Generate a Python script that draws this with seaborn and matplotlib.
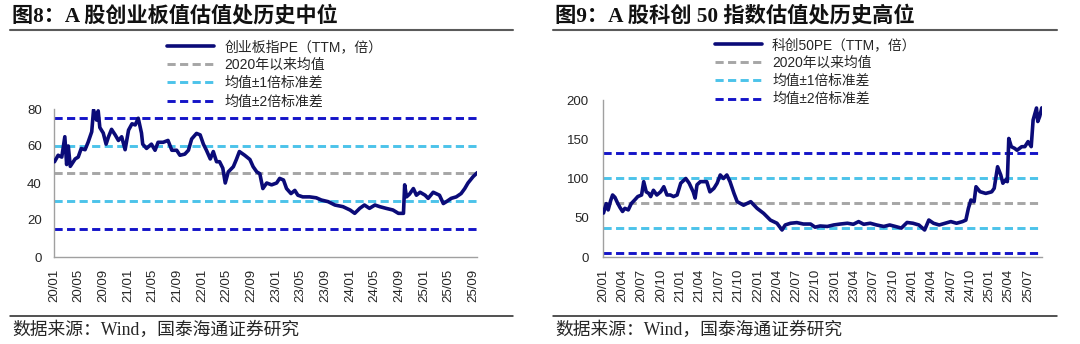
import matplotlib
matplotlib.use("Agg")
import matplotlib.pyplot as plt
from matplotlib.lines import Line2D
import pandas as pd
import seaborn as sns

# ---------------- 创业板指 PE(TTM) ----------------
cyb_dates = [
    "2020-01-02", "2020-01-20", "2020-02-07", "2020-02-22", "2020-03-02", "2020-03-10",
    "2020-03-20", "2020-04-13", "2020-04-28", "2020-05-13", "2020-06-01", "2020-06-16",
    "2020-07-04", "2020-07-13", "2020-07-28", "2020-08-05", "2020-08-13", "2020-08-30",
    "2020-09-13", "2020-09-25", "2020-10-10", "2020-10-28", "2020-11-13", "2020-11-29",
    "2020-12-16", "2021-01-02", "2021-01-19", "2021-02-04", "2021-02-19", "2021-03-07",
    "2021-03-13", "2021-04-01", "2021-04-25", "2021-05-13", "2021-05-28", "2021-06-22",
    "2021-07-16", "2021-08-04", "2021-08-28", "2021-09-13", "2021-10-07", "2021-10-25",
    "2021-11-10", "2021-12-04", "2021-12-22", "2022-01-07", "2022-01-22", "2022-02-10",
    "2022-02-25", "2022-03-13", "2022-03-28", "2022-04-13", "2022-04-25", "2022-05-10",
    "2022-06-04", "2022-06-19", "2022-07-04", "2022-07-30", "2022-08-25", "2022-09-10",
    "2022-09-28", "2022-10-13", "2022-10-28", "2022-11-16", "2022-12-10", "2023-01-04",
    "2023-01-19", "2023-02-07", "2023-02-22", "2023-03-16", "2023-04-04", "2023-04-19",
    "2023-05-13", "2023-06-16", "2023-07-19", "2023-08-13", "2023-09-16", "2023-10-19",
    "2023-11-28", "2024-01-02", "2024-01-25", "2024-02-19", "2024-03-13", "2024-04-07",
    "2024-05-04", "2024-05-28", "2024-06-28", "2024-08-01", "2024-08-28", "2024-09-22",
    "2024-09-28", "2024-10-07", "2024-10-22", "2024-11-10", "2024-11-25", "2024-12-13",
    "2025-01-07", "2025-01-22", "2025-02-16", "2025-03-19", "2025-04-07", "2025-04-22",
    "2025-05-16", "2025-06-10", "2025-07-04", "2025-07-22", "2025-08-07", "2025-09-01",
    "2025-09-22",
]
cyb_pe = [
    51.5, 55.0, 54.0, 65.0, 50.0, 60.0,
    49.0, 53.0, 54.0, 58.6, 58.0, 62.0,
    67.7, 79.5, 74.0, 79.0, 70.0, 67.0,
    61.0, 65.0, 69.0, 66.0, 63.0, 65.0,
    58.0, 68.6, 72.0, 71.4, 75.0, 67.0,
    61.0, 58.7, 61.0, 57.7, 62.0, 62.0,
    63.0, 57.7, 57.7, 55.0, 55.6, 57.7,
    63.8, 66.8, 66.0, 61.0, 57.7, 53.0,
    57.0, 51.5, 51.5, 48.0, 40.0, 46.0,
    48.8, 52.7, 57.0, 55.0, 52.7, 48.8,
    46.0, 45.0, 37.0, 40.0, 39.0, 40.0,
    42.5, 41.6, 37.0, 34.3, 36.0, 33.4,
    32.5, 32.5, 32.0, 30.8, 29.9, 28.1,
    27.2, 25.4, 23.6, 26.3, 28.1, 26.3,
    28.1, 27.2, 26.3, 25.4, 23.6, 23.6,
    39.0, 32.5, 34.0, 37.0, 33.4, 35.0,
    33.4, 31.7, 35.0, 33.4, 28.9, 29.9,
    31.7, 32.5, 34.3, 37.0, 40.0, 43.4,
    45.6,
]
cyb_mean = 45.2
cyb_sd1 = [60.2, 30.2]
cyb_sd2 = [75.2, 15.2]
cyb_ticks = ["20/01", "20/05", "20/09", "21/01", "21/05", "21/09", "22/01", "22/05",
             "22/09", "23/01", "23/05", "23/09", "24/01", "24/05", "24/09", "25/01",
             "25/05", "25/09"]
cyb_yticks = [0, 20, 40, 60, 80]

# ---------------- 科创50 PE(TTM) ----------------
kc_dates = [
    "2020-01-02", "2020-01-15", "2020-01-24", "2020-02-05", "2020-02-14", "2020-02-25",
    "2020-03-08", "2020-03-20", "2020-04-01", "2020-04-12", "2020-04-28", "2020-05-12",
    "2020-05-28", "2020-06-12", "2020-06-30", "2020-07-10", "2020-07-22", "2020-08-03",
    "2020-08-12", "2020-08-25", "2020-09-10", "2020-09-28", "2020-10-13", "2020-10-28",
    "2020-11-13", "2020-11-28", "2020-12-15", "2021-01-01", "2021-01-25", "2021-02-10",
    "2021-03-01", "2021-03-10", "2021-03-19", "2021-04-04", "2021-05-04", "2021-05-19",
    "2021-06-07", "2021-06-22", "2021-07-07", "2021-07-22", "2021-08-07", "2021-08-22",
    "2021-09-10", "2021-09-25", "2021-10-25", "2021-11-28", "2021-12-28", "2022-01-28",
    "2022-03-01", "2022-04-01", "2022-04-25", "2022-05-10", "2022-06-04", "2022-07-04",
    "2022-08-04", "2022-09-07", "2022-09-28", "2022-10-22", "2022-11-25", "2022-12-25",
    "2023-01-25", "2023-02-28", "2023-03-28", "2023-04-22", "2023-05-16", "2023-06-16",
    "2023-07-16", "2023-08-19", "2023-09-16", "2023-10-13", "2023-11-10", "2023-12-07",
    "2024-01-04", "2024-02-01", "2024-02-28", "2024-03-19", "2024-04-10", "2024-05-07",
    "2024-06-04", "2024-07-01", "2024-07-28", "2024-08-25", "2024-09-10", "2024-09-22",
    "2024-10-04", "2024-10-19", "2024-10-28", "2024-11-16", "2024-12-13", "2025-01-10",
    "2025-01-22", "2025-02-07", "2025-02-22", "2025-03-04", "2025-03-16", "2025-03-25",
    "2025-04-01", "2025-04-13", "2025-04-28", "2025-05-10", "2025-06-01", "2025-06-16",
    "2025-07-01", "2025-07-16", "2025-07-25", "2025-08-10", "2025-08-16", "2025-08-25",
    "2025-09-04",
]
kc_pe = [
    56.0, 68.0, 60.0, 72.0, 79.0, 76.0,
    69.0, 63.0, 58.0, 62.0, 60.0, 68.0,
    72.5, 77.0, 79.0, 96.0, 83.0, 81.0,
    77.0, 85.0, 79.0, 83.0, 89.5, 79.0,
    79.0, 77.0, 79.0, 94.0, 100.0, 94.0,
    83.0, 75.0, 92.0, 96.0, 96.0, 83.0,
    87.5, 94.0, 104.5, 100.0, 104.5, 96.0,
    81.0, 70.5, 66.0, 70.5, 62.0, 55.6,
    47.0, 43.0, 34.4, 40.8, 43.0, 43.8,
    42.0, 42.0, 38.0, 39.5, 38.9, 40.8,
    42.0, 43.0, 41.7, 45.1, 41.7, 43.0,
    40.8, 38.9, 40.8, 38.9, 36.8, 44.0,
    43.0, 40.8, 34.4, 47.1, 43.0, 40.8,
    43.0, 45.1, 43.0, 45.1, 47.0, 62.0,
    72.6, 70.5, 89.5, 83.2, 81.0, 83.0,
    87.5, 115.0, 104.5, 94.0, 98.0, 96.0,
    151.0, 140.5, 138.5, 136.0, 140.5, 140.6,
    147.0, 140.6, 174.5, 189.8, 172.6, 179.0,
    190.0,
]
kc_mean = 68.5
kc_sd1 = [100.5, 36.5]
kc_sd2 = [132.5, 4.5]
kc_ticks = ["20/01", "20/04", "20/07", "20/10", "21/01", "21/04", "21/07", "21/10",
            "22/01", "22/04", "22/07", "22/10", "23/01", "23/04", "23/07", "23/10",
            "24/01", "24/04", "24/07", "24/10", "25/01", "25/04", "25/07"]
kc_yticks = [0, 50, 100, 150, 200]

legend_tail = ["2020年以来均值", "均值±1倍标准差", "均值±2倍标准差"]

NAVY = "#0b0b78"
BLUE2 = "#1414c8"
CYAN1 = "#4cc3ea"
GREY = "#a6a6a6"
AXIS = "#a0a0a0"
TXT = "#262626"

sns.set_theme(style="white")
plt.rcParams["font.family"] = ["Liberation Sans", "Noto Sans CJK SC", "DejaVu Sans"]
plt.rcParams["axes.unicode_minus"] = False

W, H = 1080, 344
fig = plt.figure(figsize=(W / 100, H / 100), dpi=100)
fig.patch.set_facecolor("white")


def fx(px):
    return px / W


def fy(py):
    return 1 - py / H


DASH = (0, (2.8, 1.5))


def draw_panel(ax, dates, values, mean, sd1, sd2, ylim, yticks, ticks, xend,
               series_label, legend_xy, legend_size, ypad):
    df = pd.DataFrame({"date": pd.to_datetime(dates), "pe": values})
    for lvl in sd2:
        ax.axhline(lvl, color=BLUE2, lw=2.1, ls=DASH, zorder=1)
    for lvl in sd1:
        ax.axhline(lvl, color=CYAN1, lw=2.1, ls=DASH, zorder=1)
    ax.axhline(mean, color=GREY, lw=2.1, ls=DASH, zorder=1)
    sns.lineplot(data=df, x="date", y="pe", ax=ax, color=NAVY, lw=2.6,
                 zorder=3, legend=False)

    ax.set_xlim(pd.Timestamp("2020-01-01"), pd.Timestamp(xend))
    ax.set_ylim(*ylim)
    ax.set_yticks(yticks)
    tick_dates = [pd.Timestamp("20" + t[:2] + "-" + t[3:] + "-01") for t in ticks]
    ax.set_xticks(tick_dates)
    ax.set_xticklabels(ticks, rotation=90)
    ax.set_xlabel("")
    ax.set_ylabel("")
    for side in ["top", "right"]:
        ax.spines[side].set_visible(False)
    for side in ["left", "bottom"]:
        ax.spines[side].set_color(AXIS)
        ax.spines[side].set_linewidth(1.0)
    ax.tick_params(axis="both", which="major", direction="out", length=3.5,
                   width=0.9, color=AXIS, labelcolor=TXT, labelsize=9.5)
    ax.tick_params(axis="x", pad=5)
    ax.tick_params(axis="y", pad=ypad)
    ax.grid(False)
    ax.set_facecolor("white")

    handles = [
        Line2D([], [], color=NAVY, lw=2.6),
        Line2D([], [], color=GREY, lw=2.1, ls=DASH),
        Line2D([], [], color=CYAN1, lw=2.1, ls=DASH),
        Line2D([], [], color=BLUE2, lw=2.1, ls=DASH),
    ]
    labels = [series_label] + legend_tail
    ax.legend(handles, labels, loc="upper left", bbox_to_anchor=legend_xy,
              bbox_transform=fig.transFigure, frameon=False, fontsize=legend_size,
              handlelength=3.4, handletextpad=0.75, labelspacing=0.3,
              borderpad=0, borderaxespad=0, labelcolor=TXT)


ax1 = fig.add_axes([fx(54.3), fy(257), fx(477.3) - fx(54.3), fy(109) - fy(257)])
ax2 = fig.add_axes([fx(603.3), fy(257), fx(1042) - fx(603.3), fy(100) - fy(257)])

draw_panel(ax1, cyb_dates, cyb_pe, cyb_mean, cyb_sd1, cyb_sd2, (0, 80), cyb_yticks,
           cyb_ticks, "2025-09-22", "创业板指PE（TTM，倍）", (fx(167), fy(40)), 10, 5.5)
draw_panel(ax2, kc_dates, kc_pe, kc_mean, kc_sd1, kc_sd2, (0, 200), kc_yticks,
           kc_ticks, "2025-09-05", "科创50PE（TTM，倍）", (fx(715), fy(38)), 9.9, 7)

serif_cjk = ["Liberation Serif", "Noto Sans CJK SC"]

# Titles and rules
fig.text(fx(12), fy(16), "图8：A 股创业板值估值处历史中位", fontsize=15.2,
         fontweight="bold", family=serif_cjk, color="#111111", va="center", ha="left")
fig.text(fx(555), fy(16), "图9：A 股科创 50 指数估值处历史高位", fontsize=15.3,
         fontweight="bold", family=serif_cjk, color="#111111", va="center", ha="left")
for x0, x1 in [(10, 513), (553, 1057)]:
    fig.add_artist(Line2D([fx(x0), fx(x1)], [fy(30), fy(30)], color="#5a5a5a", lw=1.5))
    fig.add_artist(Line2D([fx(x0), fx(x1)], [fy(315.5), fy(315.5)], color="#222222", lw=1.1))

# Source notes
for x0 in [12, 555]:
    fig.text(fx(x0), fy(330), "数据来源：Wind，国泰海通证券研究", fontsize=12.8,
             family=serif_cjk, color=TXT, va="center", ha="left")

fig.savefig("out.png", dpi=100, facecolor="white")
